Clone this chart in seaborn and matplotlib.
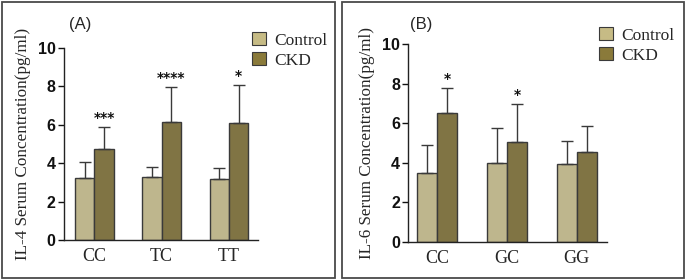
import matplotlib
matplotlib.use("Agg")
import matplotlib.pyplot as plt
import seaborn as sns
import pandas as pd
from matplotlib.patches import Rectangle

sns.set_theme(style="ticks")
plt.rcParams['font.family'] = ['DejaVu Sans']

groups = ["Control", "CKD"]
il4_genotypes = ["CC", "TC", "TT"]
il4_control = [3.21, 3.28, 3.18]
il4_ckd = [4.74, 6.15, 6.11]
il4_control_sd = [0.84, 0.54, 0.59]
il4_ckd_sd = [1.13, 1.83, 1.98]
il4_stars = ["***", "****", "*"]

il6_genotypes = ["CC", "GC", "GG"]
il6_control = [3.47, 4.00, 3.95]
il6_ckd = [6.49, 5.06, 4.52]
il6_control_sd = [1.42, 1.77, 1.16]
il6_ckd_sd = [1.30, 1.92, 1.35]
il6_stars = ["*", "*", ""]

yticks = [0, 2, 4, 6, 8, 10]
colors = {"Control": "#C6BB85", "CKD": "#8A7A3A"}
edge = "#3a3a3a"

fig = plt.figure(figsize=(6.85, 2.8), dpi=100)
W, H = 685, 280

def fx(px):
    return px / W

def fy(py):
    return 1 - py / H

# outer panel frames
for x0, x1 in [(1.5, 335), (341.5, 683.5)]:
    fig.patches.append(Rectangle((fx(x0), fy(277.5)), fx(x1 - x0), (277.5 - 1.5) / H,
                                 transform=fig.transFigure, fill=False,
                                 edgecolor="#4a4a4a", linewidth=1.3))

def panel(rect, genos, ctrl, ckd, ctrl_sd, ckd_sd, stars, ylabel, tag, xlim, tagpos, legpos):
    ax = fig.add_axes(rect)
    df = pd.DataFrame({
        "genotype": genos * 2,
        "group": ["Control"] * len(genos) + ["CKD"] * len(genos),
        "value": ctrl + ckd,
    })
    sns.barplot(data=df, x="genotype", y="value", hue="group", hue_order=groups,
                order=genos, palette=colors, errorbar=None, width=0.575,
                edgecolor=edge, linewidth=1.0, ax=ax, legend=False)
    sds = {"Control": ctrl_sd, "CKD": ckd_sd}
    vals = {"Control": ctrl, "CKD": ckd}
    for cont, g in zip(ax.containers, groups):
        for i, bar in enumerate(cont):
            xc = bar.get_x() + bar.get_width() / 2
            top = vals[g][i]
            ax.errorbar([xc], [top], yerr=[[0], [sds[g][i]]], fmt="none",
                        ecolor=edge, elinewidth=1.0, capsize=4, capthick=1.0, zorder=1)
            if g == "CKD" and stars[i]:
                ax.text(xc, top + sds[g][i] + 0.1, stars[i], ha="center", va="bottom",
                        fontsize=10, fontweight="bold", color="#111")
    ax.set_ylim(0, 10)
    ax.set_xlim(*xlim)
    ax.set_yticks(yticks)
    ax.set_yticklabels([str(t) for t in yticks], fontfamily="Liberation Sans",
                       fontweight="bold", fontsize=11.5)
    ax.set_xticks(range(len(genos)))
    ax.set_xticklabels(genos, fontfamily="Liberation Serif", fontsize=13)
    ax.tick_params(axis="x", length=0, pad=6)
    ax.tick_params(axis="y", length=4, width=1.0, pad=2, colors="#111")
    ax.set_xlabel("")
    ax.set_ylabel(ylabel, fontfamily="Liberation Serif", fontsize=12.3, labelpad=5)
    for s in ["top", "right"]:
        ax.spines[s].set_visible(False)
    for s in ["left", "bottom"]:
        ax.spines[s].set_linewidth(1.0)
        ax.spines[s].set_color("#222")
    fig.text(fx(tagpos[0]), fy(tagpos[1]), tag, ha="center", va="center",
             fontsize=12, fontfamily="Liberation Sans")
    handles = [Rectangle((0, 0), 1, 1, facecolor=colors[g], edgecolor=edge, linewidth=0.8)
               for g in groups]
    fig.legend(handles, groups, loc="upper left",
               bbox_to_anchor=(fx(legpos[0]), fy(legpos[1])), frameon=False,
               prop={"family": "Liberation Serif", "size": 12.5},
               handlelength=0.8, handleheight=0.8, handletextpad=0.5,
               labelspacing=0.2, borderpad=0, borderaxespad=0)
    return ax

panel([fx(64), fy(240), fx(258 - 64), (240 - 48) / H], il4_genotypes,
      il4_control, il4_ckd, il4_control_sd, il4_ckd_sd, il4_stars,
      "IL-4 Serum Concentration(pg/ml)", "(A)", (-0.45, 2.43), (80, 25), (252, 32))
panel([fx(408.3), fy(241.7), fx(606.7 - 408.3), (241.7 - 44) / H], il6_genotypes,
      il6_control, il6_ckd, il6_control_sd, il6_ckd_sd, il6_stars,
      "IL-6 Serum Concentration(pg/ml)", "(B)", (-0.416, 2.43), (421, 25), (599, 27))

fig.savefig("out.png", dpi=100)
